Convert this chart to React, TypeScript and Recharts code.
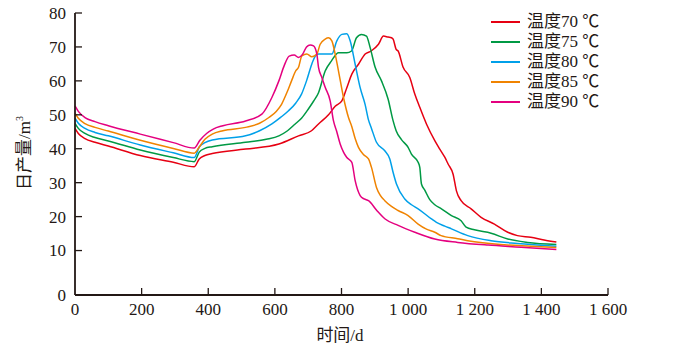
import React from 'react';
import { LineChart, Line, XAxis, YAxis, Legend } from 'recharts';

// daily production (m³) over time (d) for each temperature
const days70 = [0, 10, 30, 60, 100, 196, 295, 358, 373, 390, 412, 512, 612, 671, 710, 731, 761, 781, 801, 816, 831, 851, 871, 889, 911, 926, 940, 950, 955, 964, 970, 985, 1005, 1020, 1035, 1055, 1080, 1095, 1110, 1120, 1135, 1145, 1159, 1189, 1219, 1259, 1299, 1328, 1368, 1408, 1445];
const prod70 = [46, 44.5, 43, 41.9, 40.8, 38, 36, 34.7, 37, 38, 38.6, 39.9, 41.4, 43.8, 45.3, 47.3, 50, 52.5, 54.1, 58, 62, 64.9, 67.9, 68.8, 70.8, 73.2, 72.9, 72.7, 72.3, 69.3, 68.8, 64, 61, 56.1, 52.2, 47.3, 42.4, 39.9, 37.5, 35.5, 32.5, 27.6, 24.7, 22.3, 19.8, 17.8, 15.4, 14.4, 13.9, 13.1, 12.5];

const days75 = [0, 10, 30, 60, 100, 196, 295, 358, 373, 390, 412, 512, 574, 612, 638, 661, 680, 701, 716, 731, 751, 770, 791, 816, 830, 845, 860, 875, 886, 901, 920, 940, 955, 964, 980, 1000, 1010, 1030, 1035, 1040, 1050, 1065, 1080, 1100, 1130, 1159, 1174, 1199, 1249, 1299, 1358, 1445];
const prod75 = [47.5, 46, 44.5, 43.3, 42.3, 39.6, 37.4, 36.2, 39, 40.1, 40.6, 41.9, 42.8, 43.8, 45.3, 47.3, 49, 51.8, 54, 56.5, 62.9, 65.9, 68.3, 68.3, 68.8, 72.7, 73.7, 73.2, 69.8, 64, 60, 54.6, 48.2, 45.3, 42.7, 40.4, 38.4, 36, 34.5, 29.6, 27.8, 25, 23.5, 22.3, 20.3, 18.8, 16.9, 16.1, 15.1, 13.4, 12.4, 11.8];

const days80 = [0, 10, 30, 60, 100, 196, 295, 358, 373, 390, 412, 512, 554, 591, 618, 641, 663, 680, 695, 711, 721, 731, 751, 771, 786, 801, 816, 826, 841, 856, 871, 881, 890, 905, 930, 945, 955, 965, 990, 1010, 1030, 1070, 1085, 1110, 1130, 1179, 1249, 1328, 1445];
const prod80 = [49, 47.5, 46, 44.8, 43.8, 41.1, 38.8, 37.4, 40.5, 41.8, 42.6, 43.8, 45.3, 47.3, 49.3, 51.2, 53.5, 56.1, 60, 65, 67.2, 67.9, 67.9, 67.9, 71.8, 73.7, 73.9, 71.8, 64.9, 58, 53, 48.5, 46, 41.9, 39.4, 37, 33, 29.6, 25.2, 23.5, 22.3, 19.3, 18.3, 17.2, 16.4, 14.4, 12.9, 12.1, 11.3];

const days85 = [0, 10, 30, 60, 100, 196, 295, 358, 373, 390, 412, 444, 512, 554, 582, 604, 620, 638, 650, 663, 671, 681, 696, 711, 726, 736, 751, 761, 771, 781, 791, 806, 821, 831, 841, 851, 866, 881, 890, 905, 916, 930, 950, 970, 1000, 1030, 1055, 1080, 1099, 1149, 1179, 1289, 1369, 1445];
const prod85 = [50.4, 49, 47.4, 46.3, 45.2, 42.5, 40.1, 38.7, 40.5, 42.8, 44.3, 45.3, 46.3, 47.5, 49.2, 51, 53.1, 57, 60, 63, 64, 67.4, 67.9, 67.1, 67.9, 70.8, 72.3, 72.7, 71.8, 67.9, 62.9, 55.1, 49.2, 46.5, 43, 40.4, 38.3, 37, 34.5, 28.6, 26.3, 24.7, 23, 21.8, 20.3, 17.8, 16.3, 15.4, 14.4, 13.5, 12.9, 11.7, 11.3, 10.9];

const days90 = [0, 10, 30, 60, 100, 196, 295, 358, 375, 395, 415, 444, 512, 561, 591, 612, 628, 643, 658, 671, 683, 695, 706, 716, 726, 731, 741, 751, 766, 776, 785, 796, 806, 816, 831, 841, 856, 868, 881, 906, 931, 970, 1020, 1080, 1149, 1240, 1339, 1445];
const prod90 = [52.6, 51, 49.2, 48, 46.8, 44.3, 41.8, 40.2, 42.5, 44.5, 45.8, 46.8, 48.2, 50.2, 55.1, 60, 64.5, 67.3, 67.6, 66.9, 67.8, 70, 70.6, 70.3, 67.9, 64, 61, 58.1, 54.1, 48.2, 45.3, 41.4, 39, 37.4, 36, 30.6, 26.2, 25.2, 24.7, 21.8, 19.3, 17.4, 15.4, 13.4, 12.4, 11.6, 11, 10.3];

const xTicks = [0, 200, 400, 600, 800, 1000, 1200, 1400, 1600];
const xTickLabels = ['0', '200', '400', '600', '800', '1 000', '1 200', '1 400', '1 600'];
// the y axis is broken between 0 and 10, so the "0" tick sits a bit below 10
const yTicks = [-3.1, 10, 20, 30, 40, 50, 60, 70, 80];
const yTickLabels = ['0', '10', '20', '30', '40', '50', '60', '70', '80'];

const series = [
  { key: 't70', name: '温度70 ℃', color: '#e60012', days: days70, prod: prod70 },
  { key: 't75', name: '温度75 ℃', color: '#009944', days: days75, prod: prod75 },
  { key: 't80', name: '温度80 ℃', color: '#00a0e9', days: days80, prod: prod80 },
  { key: 't85', name: '温度85 ℃', color: '#f08300', days: days85, prod: prod85 },
  { key: 't90', name: '温度90 ℃', color: '#e4007f', days: days90, prod: prod90 },
];

const ink = '#231815';
const font = '"Liberation Serif", "Times New Roman", "Noto Sans CJK SC", serif';

const XTick = (props: any) => {
  const { x, y, payload } = props;
  const label = xTickLabels[xTicks.indexOf(payload.value)];
  return (
    <g>
      {payload.value > 0 && <line x1={x} x2={x} y1={y} y2={y - 7} stroke={ink} strokeWidth={1.3} />}
      <text x={x} y={y + 20} textAnchor="middle" fill={ink} fontSize={17} fontFamily={font}>
        {label}
      </text>
    </g>
  );
};

const YTick = (props: any) => {
  const { x, y, payload } = props;
  const label = yTickLabels[yTicks.indexOf(payload.value)];
  return (
    <g>
      {payload.value > 0 && <line x1={x} x2={x + 7} y1={y} y2={y} stroke={ink} strokeWidth={1.3} />}
      <text x={x - 9} y={y} dy="0.35em" textAnchor="end" fill={ink} fontSize={17} fontFamily={font}>
        {label}
      </text>
    </g>
  );
};

const YLabel = () => (
  <text transform="translate(30,153) rotate(-90)" textAnchor="middle" fill={ink} fontSize={17} fontFamily={font}>
    日产量/m<tspan dy={-7} fontSize={10}>3</tspan>
  </text>
);

const XLabel = () => (
  <text x={340} y={341} textAnchor="middle" fill={ink} fontSize={17} fontFamily={font}>
    时间/d
  </text>
);

const LegendBox = () => (
  <div style={{ fontFamily: font, fontSize: 17, color: ink }}>
    {series.map((s) => (
      <div key={s.key} style={{ display: 'flex', alignItems: 'center', height: 20 }}>
        <span style={{ display: 'inline-block', width: 29, height: 2, background: s.color, marginRight: 7 }} />
        <span style={{ whiteSpace: 'nowrap', lineHeight: '20px' }}>{s.name}</span>
      </div>
    ))}
  </div>
);

export default function App() {
  return (
    <div style={{ position: 'absolute', left: 0, top: 0, width: 680, height: 347, background: '#fff' }}>
      <LineChart width={680} height={347} margin={{ top: 13, right: 72, bottom: 22, left: 0 }}>
        <XAxis
          type="number"
          dataKey="t"
          domain={[0, 1600]}
          ticks={xTicks}
          interval={0}
          height={30}
          tickSize={0}
          tickMargin={0}
          tickLine={false}
          tick={<XTick />}
          axisLine={{ stroke: ink, strokeWidth: 1.8 }}
          label={() => <XLabel />}
        />
        <YAxis
          type="number"
          domain={[-3.1, 80]}
          ticks={yTicks}
          interval={0}
          width={75}
          tickSize={0}
          tickMargin={0}
          tickLine={false}
          tick={<YTick />}
          axisLine={{ stroke: ink, strokeWidth: 1.8 }}
          label={() => <YLabel />}
        />
        <Legend
          layout="horizontal"
          verticalAlign="middle"
          align="center"
          content={() => <LegendBox />}
          wrapperStyle={{ left: 491, top: 12, width: 180, height: 100 }}
        />
        {series.map((s) => (
          <Line
            key={s.key}
            data={s.days.map((t, i) => ({ t, q: s.prod[i] }))}
            dataKey="q"
            name={s.name}
            type="monotone"
            stroke={s.color}
            strokeWidth={1.5}
            dot={false}
            activeDot={false}
            isAnimationActive={false}
          />
        ))}
      </LineChart>
    </div>
  );
}
